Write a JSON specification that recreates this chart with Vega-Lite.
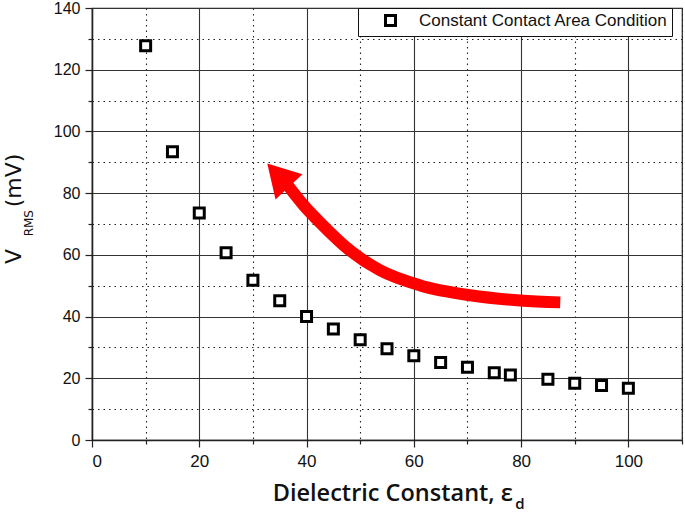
{
  "$schema": "https://vega.github.io/schema/vega-lite/v6.json",
  "width": 590,
  "height": 432,
  "autosize": {"type": "none"},
  "padding": {"left": 92, "top": 8, "right": 3, "bottom": 73},
  "background": "white",
  "config": {
    "view": {"stroke": "#222", "strokeWidth": 1.2},
    "axis": {
      "grid": true,
      "gridColor": {"condition": {"test": "datum.value % 20 === 0", "value": "#333"}, "value": "#222"},
      "gridDash": {"condition": {"test": "datum.value % 20 === 0", "value": []}, "value": [1.5, 4]},
      "gridWidth": 1.1,
      "domainColor": "#222",
      "domainWidth": 1.5,
      "tickColor": "#222",
      "tickWidth": 1.2,
      "tickSize": {"condition": {"test": "datum.value % 20 === 0", "value": 7}, "value": 4},
      "labelFont": "Liberation Sans",
      "labelFontSize": 16,
      "labelColor": "#111",
      "title": null
    }
  },
  "datasets": {
    "pts": [
      {"eps": 10, "v": 127.8, "series": "Constant Contact Area Condition"},
      {"eps": 15, "v": 93.4, "series": "Constant Contact Area Condition"},
      {"eps": 20, "v": 73.6, "series": "Constant Contact Area Condition"},
      {"eps": 25, "v": 60.7, "series": "Constant Contact Area Condition"},
      {"eps": 30, "v": 51.8, "series": "Constant Contact Area Condition"},
      {"eps": 35, "v": 45.1, "series": "Constant Contact Area Condition"},
      {"eps": 40, "v": 40.0, "series": "Constant Contact Area Condition"},
      {"eps": 45, "v": 36.0, "series": "Constant Contact Area Condition"},
      {"eps": 50, "v": 32.5, "series": "Constant Contact Area Condition"},
      {"eps": 55, "v": 29.6, "series": "Constant Contact Area Condition"},
      {"eps": 60, "v": 27.3, "series": "Constant Contact Area Condition"},
      {"eps": 65, "v": 25.1, "series": "Constant Contact Area Condition"},
      {"eps": 70, "v": 23.6, "series": "Constant Contact Area Condition"},
      {"eps": 75, "v": 21.8, "series": "Constant Contact Area Condition"},
      {"eps": 78, "v": 21.1, "series": "Constant Contact Area Condition"},
      {"eps": 85, "v": 19.7, "series": "Constant Contact Area Condition"},
      {"eps": 90, "v": 18.4, "series": "Constant Contact Area Condition"},
      {"eps": 95, "v": 17.7, "series": "Constant Contact Area Condition"},
      {"eps": 100, "v": 16.8, "series": "Constant Contact Area Condition"}
    ],
    "arrow": [
      {"eps": 36.5, "v": 82.5},
      {"eps": 39.5, "v": 76.0},
      {"eps": 42.5, "v": 70.5},
      {"eps": 48.1, "v": 61.4},
      {"eps": 53.7, "v": 55.0},
      {"eps": 61.2, "v": 50.1},
      {"eps": 70.5, "v": 46.9},
      {"eps": 79.8, "v": 45.2},
      {"eps": 87.3, "v": 44.6}
    ],
    "head": [
      {"eps": 34.7, "v": 85.8}
    ]
  },
  "layer": [
    {
      "data": {"name": "pts"},
      "mark": {"type": "point", "shape": "square", "filled": true, "fill": "white", "strokeWidth": 3, "size": 100, "opacity": 1},
      "encoding": {
        "x": {"field": "eps", "type": "quantitative",
          "scale": {"domain": [0, 110], "nice": false, "zero": false},
          "axis": {"values": [0, 10, 20, 30, 40, 50, 60, 70, 80, 90, 100, 110],
            "labelExpr": "datum.value % 20 === 0 && datum.value <= 100 ? datum.label : ''",
            "labelPadding": 6, "labelFontSize": 17, "labelFont": "Liberation Sans Narrow, Liberation Sans"}},
        "y": {"field": "v", "type": "quantitative",
          "scale": {"domain": [0, 140], "nice": false, "zero": false},
          "axis": {"values": [0, 10, 20, 30, 40, 50, 60, 70, 80, 90, 100, 110, 120, 130, 140],
            "labelExpr": "datum.value % 20 === 0 ? datum.label : ''",
            "labelPadding": 5}},
        "stroke": {"field": "series", "type": "nominal",
          "scale": {"range": ["black"]},
          "legend": {"title": null, "orient": "none", "legendX": 266, "legendY": 0,
            "symbolType": "square", "symbolSize": 100, "symbolStrokeWidth": 3,
            "symbolFillColor": "white", "symbolStrokeColor": "black",
            "labelFont": "Liberation Sans", "labelFontSize": 17, "labelColor": "#111", "labelLimit": 0,
            "labelOffset": 20, "padding": 4, "strokeColor": "#111", "fillColor": "white",
            "symbolOffset": 20}}
      }
    },
    {
      "data": {"name": "arrow"},
      "mark": {"type": "line", "color": "#ff0000", "strokeWidth": 12, "interpolate": "monotone", "strokeCap": "butt"},
      "encoding": {
        "x": {"field": "eps", "type": "quantitative"},
        "y": {"field": "v", "type": "quantitative",
          "axis": {"values": [0, 10, 20, 30, 40, 50, 60, 70, 80, 90, 100, 110, 120, 130, 140],
            "labelExpr": "datum.value % 20 === 0 ? datum.label : ''", "labelPadding": 5}}
      }
    },
    {
      "data": {"name": "head"},
      "mark": {"type": "point", "shape": "triangle-up", "filled": true, "color": "#ff0000", "size": 1350, "angle": 317, "opacity": 1},
      "encoding": {
        "x": {"field": "eps", "type": "quantitative"},
        "y": {"field": "v", "type": "quantitative",
          "axis": {"values": [0, 10, 20, 30, 40, 50, 60, 70, 80, 90, 100, 110, 120, 130, 140],
            "labelExpr": "datum.value % 20 === 0 ? datum.label : ''", "labelPadding": 5}}
      }
    },
    {
      "data": {"values": [{}]},
      "mark": {"type": "text", "text": "Dielectric Constant, ε", "align": "left", "baseline": "alphabetic", "font": "Open Sans", "fontSize": 23.5, "fontWeight": 600, "color": "#111"},
      "encoding": {"x": {"datum": 33.7, "type": "quantitative"},
        "y": {"datum": -19.7, "type": "quantitative",
          "axis": {"values": [0, 10, 20, 30, 40, 50, 60, 70, 80, 90, 100, 110, 120, 130, 140],
            "labelExpr": "datum.value % 20 === 0 ? datum.label : ''", "labelPadding": 5}}}
    },
    {
      "data": {"values": [{}]},
      "mark": {"type": "text", "text": "d", "align": "left", "baseline": "alphabetic", "font": "Open Sans", "fontSize": 15, "fontWeight": 600, "color": "#111"},
      "encoding": {"x": {"datum": 78.9, "type": "quantitative"},
        "y": {"datum": -22.4, "type": "quantitative",
          "axis": {"values": [0, 10, 20, 30, 40, 50, 60, 70, 80, 90, 100, 110, 120, 130, 140],
            "labelExpr": "datum.value % 20 === 0 ? datum.label : ''", "labelPadding": 5}}}
    },
    {
      "data": {"values": [{}]},
      "mark": {"type": "text", "text": "V", "angle": 270, "align": "left", "baseline": "alphabetic", "font": "DejaVu Sans", "fontSize": 22, "color": "#111"},
      "encoding": {"x": {"datum": -13.24, "type": "quantitative"},
        "y": {"datum": 57.0, "type": "quantitative",
          "axis": {"values": [0, 10, 20, 30, 40, 50, 60, 70, 80, 90, 100, 110, 120, 130, 140],
            "labelExpr": "datum.value % 20 === 0 ? datum.label : ''", "labelPadding": 5}}}
    },
    {
      "data": {"values": [{}]},
      "mark": {"type": "text", "text": "RMS", "angle": 270, "align": "left", "baseline": "alphabetic", "font": "DejaVu Sans", "fontSize": 12, "color": "#111"},
      "encoding": {"x": {"datum": -11.0, "type": "quantitative"},
        "y": {"datum": 66.0, "type": "quantitative",
          "axis": {"values": [0, 10, 20, 30, 40, 50, 60, 70, 80, 90, 100, 110, 120, 130, 140],
            "labelExpr": "datum.value % 20 === 0 ? datum.label : ''", "labelPadding": 5}}}
    },
    {
      "data": {"values": [{}]},
      "mark": {"type": "text", "text": "(mV)", "angle": 270, "align": "left", "baseline": "alphabetic", "font": "DejaVu Sans", "fontSize": 22, "color": "#111"},
      "encoding": {"x": {"datum": -13.24, "type": "quantitative"},
        "y": {"datum": 75.4, "type": "quantitative",
          "axis": {"values": [0, 10, 20, 30, 40, 50, 60, 70, 80, 90, 100, 110, 120, 130, 140],
            "labelExpr": "datum.value % 20 === 0 ? datum.label : ''", "labelPadding": 5}}}
    }
  ]
}
